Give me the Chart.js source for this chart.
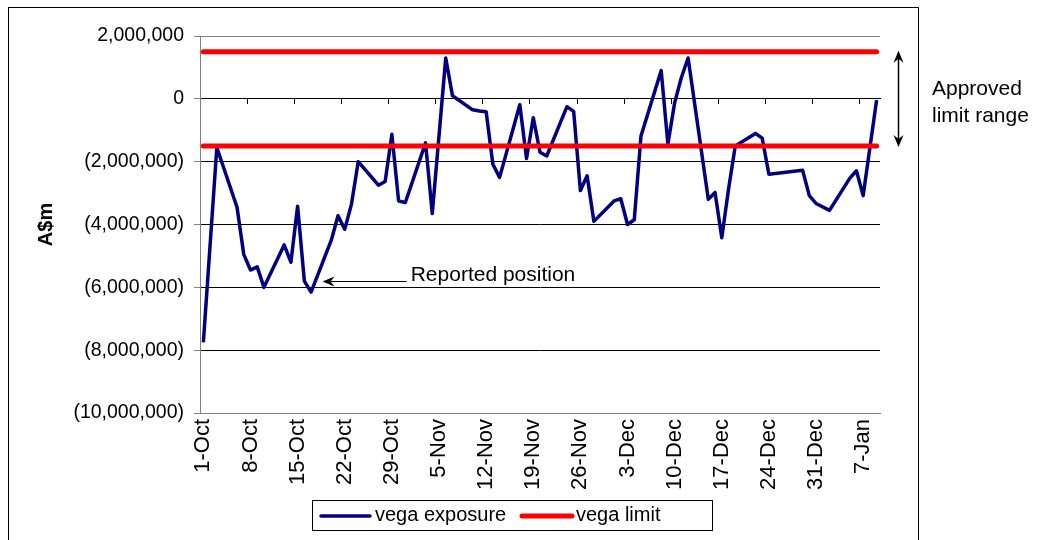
<!DOCTYPE html>
<html>
<head>
<meta charset="utf-8">
<script src="https://cdn.jsdelivr.net/npm/chart.js@4.4.0/dist/chart.umd.min.js"></script>
<style>
  html, body { margin: 0; padding: 0; background: #fff; }
  #wrap { width: 1039px; height: 540px; }
</style>
</head>
<body>
<div id="wrap"><canvas id="vegaChart"></canvas></div>
<script>
// day number counted from 1-Oct (day 0), one entry per reported business day
var days = [0, 2, 5, 6, 7, 8, 9, 12, 13, 14, 15, 16, 19, 20, 21, 22, 23, 26, 27, 28, 29, 30,
  33, 34, 36, 37, 40, 41, 42, 43, 44, 47, 48, 49, 50, 51, 54, 55, 56, 57, 58, 61, 62, 63, 64, 65,
  68, 69, 70, 71, 72, 75, 76, 77, 78, 79, 82, 83, 84, 89, 90, 91, 93, 96, 97, 98, 100];
var vegaExposure = [-7750000, -1550000, -3450000, -4950000, -5450000, -5350000, -6000000,
  -4650000, -5200000, -3420000, -5800000, -6150000,
  -4500000, -3720000, -4150000, -3350000, -2000000,
  -2750000, -2630000, -1130000, -3250000, -3300000,
  -1400000, -3650000, 1300000, 100000,
  -350000, -390000, -410000, -2080000, -2500000,
  -190000, -1900000, -600000, -1700000, -1820000,
  -250000, -400000, -2920000, -2450000, -3900000,
  -3250000, -3180000, -4000000, -3850000, -1180000,
  900000, -1440000, -120000, 680000, 1300000,
  -3200000, -2980000, -4420000, -2880000, -1500000,
  -1100000, -1250000, -2400000,
  -2270000, -3080000, -3330000, -3550000,
  -2530000, -2290000, -3080000, -40000];

var limitDays = [0, 100];
var upperLimit = [1500000, 1500000];
var lowerLimit = [-1500000, -1500000];

var tickDays = [0, 7, 14, 21, 28, 35, 42, 49, 56, 63, 70, 77, 84, 91, 98];
var tickLabels = ['1-Oct', '8-Oct', '15-Oct', '22-Oct', '29-Oct', '5-Nov', '12-Nov', '19-Nov',
  '26-Nov', '3-Dec', '10-Dec', '17-Dec', '24-Dec', '31-Dec', '7-Jan'];

// "Reported position" note: arrow tip / tail in days, level in A$
var reportedNote = { text: 'Reported position', tip: 17.7, tail: 30.2, value: -5800000 };

function toPoints(xs, ys) {
  return xs.map(function (d, i) { return { x: d, y: ys[i] }; });
}

function fmtMoney(v) {
  var s = Math.abs(v).toLocaleString('en-US');
  return v < 0 ? '(' + s + ')' : s;
}

var FONT = '"Liberation Sans", Arial, sans-serif';
var NAVY = '#000080';
var RED = '#ff0000';

function arrowHead(ctx, x, y, dx, dy) {
  // dx,dy: unit direction the arrow points to
  var len = 12, half = 5, notch = 8;
  var px = -dy, py = dx;
  ctx.beginPath();
  ctx.moveTo(x, y);
  ctx.lineTo(x - dx * len + px * half, y - dy * len + py * half);
  ctx.lineTo(x - dx * notch, y - dy * notch);
  ctx.lineTo(x - dx * len - px * half, y - dy * len - py * half);
  ctx.closePath();
  ctx.fill();
}

var decorPlugin = {
  id: 'decor',
  afterDraw: function (chart) {
    var ctx = chart.ctx;
    var xs = chart.scales.x, ys = chart.scales.y, area = chart.chartArea;
    ctx.save();

    // outer chart frame
    ctx.strokeStyle = '#000';
    ctx.lineWidth = 1;
    ctx.strokeRect(8.5, 7.5, Math.round(area.right + 38) - 8, chart.height + 10);

    // reported position arrow
    ctx.fillStyle = '#000';
    var ay = Math.round(ys.getPixelForValue(reportedNote.value)) + 0.5;
    var tipX = xs.getPixelForValue(reportedNote.tip);
    var tailX = xs.getPixelForValue(reportedNote.tail);
    ctx.beginPath();
    ctx.moveTo(tailX, ay);
    ctx.lineTo(tipX + 8, ay);
    ctx.stroke();
    arrowHead(ctx, tipX, ay, -1, 0);
    ctx.font = '21px ' + FONT;
    ctx.textAlign = 'left';
    ctx.textBaseline = 'alphabetic';
    ctx.fillText(reportedNote.text, tailX + 4, ay - 1);

    // approved limit range double arrow
    var rx = Math.round(area.right + 18) + 0.5;
    var yTop = ys.getPixelForValue(upperLimit[0]);
    var yBot = ys.getPixelForValue(lowerLimit[0]);
    ctx.lineWidth = 1.5;
    ctx.beginPath();
    ctx.moveTo(rx, yTop + 6);
    ctx.lineTo(rx, yBot - 6);
    ctx.stroke();
    arrowHead(ctx, rx, yTop - 1, 0, -1);
    arrowHead(ctx, rx, yBot + 1, 0, 1);
    var mid = (yTop + yBot) / 2;
    ctx.textBaseline = 'middle';
    ctx.fillText('Approved', area.right + 52, mid - 10);
    ctx.fillText('limit range', area.right + 52, mid + 17);

    // legend box
    var lx = 312, ly = 500, lw = 400, lh = 30;
    ctx.lineWidth = 1;
    ctx.strokeRect(lx + 0.5, ly + 0.5, lw, lh);
    var cy = ly + lh / 2 + 1;
    ctx.lineCap = 'round';
    ctx.strokeStyle = NAVY;
    ctx.lineWidth = 3.5;
    ctx.beginPath(); ctx.moveTo(lx + 9, cy); ctx.lineTo(lx + 58, cy); ctx.stroke();
    ctx.strokeStyle = RED;
    ctx.lineWidth = 5;
    ctx.beginPath(); ctx.moveTo(lx + 210, cy); ctx.lineTo(lx + 260, cy); ctx.stroke();
    ctx.fillStyle = '#000';
    ctx.font = '20px ' + FONT;
    ctx.textBaseline = 'middle';
    ctx.fillText(chart.data.datasets[2].label, lx + 63, cy - 1);
    ctx.fillText(chart.data.datasets[0].label, lx + 264, cy - 1);

    ctx.restore();
  }
};

var ctx = document.getElementById('vegaChart').getContext('2d');
var vegaChart = new Chart(ctx, {
  type: 'line',
  data: {
    datasets: [{
      label: 'vega limit',
      data: toPoints(limitDays, upperLimit),
      borderColor: RED,
      borderWidth: 5,
      borderCapStyle: 'round',
      pointRadius: 0
    }, {
      label: 'vega limit (lower)',
      data: toPoints(limitDays, lowerLimit),
      borderColor: RED,
      borderWidth: 5,
      borderCapStyle: 'round',
      pointRadius: 0
    }, {
      label: 'vega exposure',
      data: toPoints(days, vegaExposure),
      borderColor: NAVY,
      borderWidth: 3.5,
      borderJoinStyle: 'round',
      pointRadius: 0,
      tension: 0
    }]
  },
  options: {
    responsive: true,
    maintainAspectRatio: false,
    animation: false,
    layout: { padding: { left: 34, right: 159, top: 36, bottom: 0 } },
    plugins: {
      legend: { display: false },
      tooltip: { enabled: false }
    },
    scales: {
      x: {
        type: 'linear',
        min: -0.5,
        max: 100.5,
        afterBuildTicks: function (scale) {
          scale.ticks = tickDays.map(function (d) { return { value: d }; });
        },
        afterFit: function (scale) { scale.height = 127; },
        grid: { drawOnChartArea: false, drawTicks: false },
        border: { color: '#808080', width: 1 },
        ticks: {
          autoSkip: false,
          minRotation: 90,
          maxRotation: 90,
          padding: 6,
          color: '#000',
          font: { family: FONT, size: 22 },
          callback: function (value, index) { return tickLabels[index]; }
        }
      },
      x2: {
        type: 'linear',
        position: { y: 0 },
        min: -0.5,
        max: 100.5,
        afterBuildTicks: function (scale) {
          scale.ticks = tickDays.map(function (d) { return { value: d - 0.5 }; });
        },
        grid: { drawOnChartArea: false, drawTicks: true, tickLength: 5, color: '#000' },
        border: { color: '#000', width: 1 },
        ticks: { display: false }
      },
      y: {
        min: -10000000,
        max: 2000000,
        afterFit: function (scale) { scale.width = 200 - 34; },
        grid: {
          color: function (c) {
            var v = c.tick ? c.tick.value : 0;
            return (v === 2000000 || v === -10000000) ? '#808080' : '#000';
          },
          tickLength: 6,
          tickColor: '#808080'
        },
        border: { color: '#808080', width: 1 },
        title: {
          display: true,
          text: 'A$m',
          color: '#000',
          padding: { top: 0, bottom: 0 },
          font: { family: FONT, size: 20, weight: 'bold' }
        },
        ticks: {
          stepSize: 2000000,
          padding: 10,
          color: '#000',
          font: { family: FONT, size: 19.5 },
          callback: function (value) { return fmtMoney(value); }
        }
      }
    }
  },
  plugins: [decorPlugin]
});
</script>
</body>
</html>
